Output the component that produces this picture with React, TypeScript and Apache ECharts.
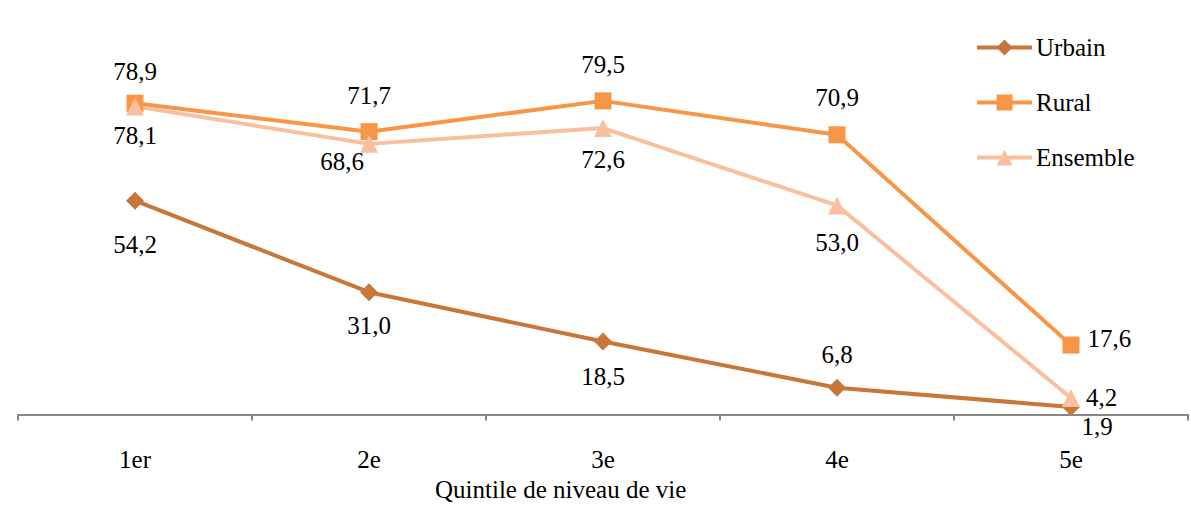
import React, { useEffect, useRef } from "react";
import * as echarts from "echarts";

const categories = ["1er", "2e", "3e", "4e", "5e"];
const urbain = [54.2, 31.0, 18.5, 6.8, 1.9];
const rural = [78.9, 71.7, 79.5, 70.9, 17.6];
const ensemble = [78.1, 68.6, 72.6, 53.0, 4.2];

type LblCfg = { position: string; distance: number; offset?: [number, number] };

const urbainLbl: LblCfg[] = [
  { position: "bottom", distance: 22 },
  { position: "bottom", distance: 12 },
  { position: "bottom", distance: 13 },
  { position: "top", distance: 12 },
  { position: "bottom", distance: -2, offset: [26, 0] },
];
const ruralLbl: LblCfg[] = [
  { position: "top", distance: 11 },
  { position: "top", distance: 15 },
  { position: "top", distance: 15 },
  { position: "top", distance: 16 },
  { position: "right", distance: 8, offset: [0, -7] },
];
const ensembleLbl: LblCfg[] = [
  { position: "bottom", distance: 8 },
  { position: "bottom", distance: -4, offset: [-27, 0] },
  { position: "bottom", distance: 10 },
  { position: "bottom", distance: 16 },
  { position: "right", distance: 6 },
];

const FONT = "Liberation Serif";
const FS = 25;

function build(name: string, values: number[], lbls: LblCfg[], color: string, symbol: string, size: number) {
  return {
    name,
    type: "line",
    symbol,
    symbolSize: size,
    lineStyle: { color, width: 4 },
    itemStyle: { color },
    data: values.map((v, i) => ({
      value: v,
      label: {
        show: true,
        position: lbls[i].position,
        distance: lbls[i].distance,
        offset: lbls[i].offset || [0, 0],
        formatter: () => v.toFixed(1).replace(".", ","),
        fontFamily: FONT,
        fontSize: FS,
        color: "#000",
      },
    })),
  };
}

export default function App() {
  const ref = useRef<HTMLDivElement>(null);
  useEffect(() => {
    document.body.style.margin = "0";
    const chart = echarts.init(ref.current!, null, { renderer: "svg" });
    chart.setOption({
      animation: false,
      backgroundColor: "#fff",
      grid: { left: 18, right: 3, top: 20, bottom: 112.5 },
      legend: {
        orient: "vertical",
        left: 975,
        top: 35,
        padding: 0,
        itemWidth: 55,
        itemHeight: 20,
        itemGap: 30,
        lineStyle: { width: 4 },
        textStyle: { fontFamily: FONT, fontSize: FS, color: "#000", padding: [0, 0, 0, -1] },
        data: ["Urbain", "Rural", "Ensemble"],
      },
      xAxis: {
        type: "category",
        data: categories,
        boundaryGap: true,
        axisLine: { lineStyle: { color: "#868686", width: 2 } },
        axisTick: { show: true, inside: false, length: 6, lineStyle: { color: "#868686", width: 2 } },
        axisLabel: { fontFamily: FONT, fontSize: FS, color: "#000", margin: 32 },
      },
      yAxis: {
        type: "value",
        min: 0,
        max: 100,
        show: false,
        splitLine: { show: false },
      },
      graphic: [
        {
          type: "text",
          left: 435,
          top: 477,
          style: { text: "Quintile de niveau de vie", fontFamily: FONT, fontSize: FS, fill: "#000" },
        },
      ],
      series: [
        build("Urbain", urbain, urbainLbl, "#C8773A", "diamond", 18),
        build("Rural", rural, ruralLbl, "#F79646", "rect", 17),
        build("Ensemble", ensemble, ensembleLbl, "#F8C09E", "triangle", 18),
      ],
    });
    return () => chart.dispose();
  }, []);
  return <div ref={ref} style={{ width: 1191, height: 527 }} />;
}
